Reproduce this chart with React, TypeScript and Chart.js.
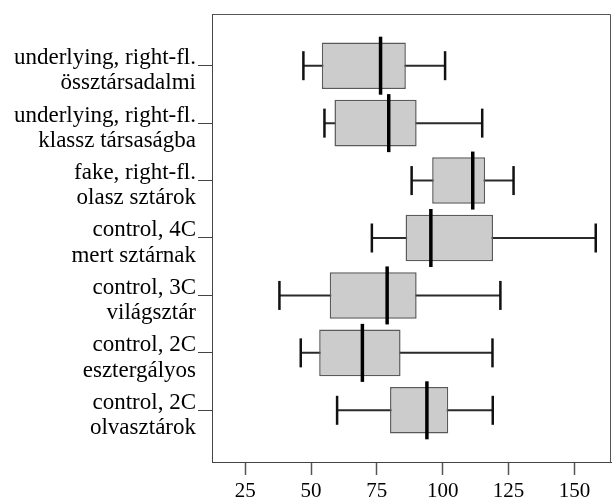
import React, { useEffect, useRef } from "react";
import { Chart, registerables } from "chart.js";

Chart.register(...registerables);

const labelLine1 = [
  "underlying, right-fl.",
  "underlying, right-fl.",
  "fake, right-fl.",
  "control, 4C",
  "control, 3C",
  "control, 2C",
  "control, 2C",
];
const labelLine2 = [
  "össztársadalmi",
  "klassz társaságba",
  "olasz sztárok",
  "mert sztárnak",
  "világsztár",
  "esztergályos",
  "olvasztárok",
];
const whiskerMin = [47.1, 55.1, 88.2, 73.1, 38.0, 46.1, 59.9];
const q1 = [54.1, 58.9, 96.0, 85.9, 57.1, 53.1, 80.0];
const median = [76.4, 79.5, 111.4, 95.5, 78.9, 69.5, 94.0];
const q3 = [86.0, 90.1, 116.1, 119.1, 90.1, 84.0, 102.1];
const whiskerMax = [100.9, 115.0, 126.9, 158.1, 121.9, 118.9, 119.0];
const xTicks = [25, 50, 75, 100, 125, 150];

const FONT = "'Liberation Serif', 'Times New Roman', serif";

export default function App() {
  const ref = useRef<HTMLCanvasElement | null>(null);

  useEffect(() => {
    const canvas = ref.current;
    if (!canvas) return;

    const positions = labelLine1.map((_, i) => i + 1);

    const whiskerSets = positions.map((p, i) => ({
      type: "scatter" as const,
      data: [
        { x: whiskerMin[i], y: p },
        { x: whiskerMax[i], y: p },
      ],
      showLine: true,
      borderColor: "#2a2a2a",
      borderWidth: 2,
      pointRadius: 0,
      pointHoverRadius: 0,
      order: 5,
    }));

    const frame = {
      id: "frame",
      afterDraw(chart: any) {
        const { ctx, chartArea } = chart;
        ctx.save();
        ctx.strokeStyle = "#555";
        ctx.lineWidth = 1;
        ctx.beginPath();
        ctx.moveTo(Math.round(chartArea.left) + 0.5, Math.round(chartArea.top) + 0.5);
        ctx.lineTo(Math.round(chartArea.right) - 0.5, Math.round(chartArea.top) + 0.5);
        ctx.lineTo(Math.round(chartArea.right) - 0.5, Math.round(chartArea.bottom) + 0.5);
        ctx.stroke();
        ctx.restore();
      },
    };

    const zeroPad = (scale: any) => {
      scale.paddingTop = 0;
      scale.paddingBottom = 0;
      scale.paddingLeft = 0;
      scale.paddingRight = 0;
    };

    const chart = new Chart(canvas, {
      type: "bar",
      data: {
        datasets: [
          ...whiskerSets,
          {
            type: "bar",
            data: positions.map((p, i) => ({ y: p, x: [q1[i], q3[i]] })),
            backgroundColor: "#cccccc",
            borderColor: "#5a5a5a",
            borderWidth: 1.5,
            borderSkipped: false,
            categoryPercentage: 1,
            barPercentage: 0.81,
            order: 4,
          } as any,
          {
            type: "scatter",
            data: positions.flatMap((p, i) => [
              { x: whiskerMin[i], y: p },
              { x: whiskerMax[i], y: p },
            ]),
            pointStyle: "line",
            rotation: 90,
            pointRadius: 14.5,
            pointHoverRadius: 14.5,
            pointBorderWidth: 2.5,
            borderColor: "#111",
            backgroundColor: "#111",
            order: 2,
          } as any,
          {
            type: "scatter",
            data: positions.map((p, i) => ({ x: median[i], y: p })),
            pointStyle: "line",
            rotation: 90,
            pointRadius: 29,
            pointHoverRadius: 29,
            pointBorderWidth: 3.5,
            borderColor: "#000",
            backgroundColor: "#000",
            order: 1,
          } as any,
        ] as any,
      },
      options: {
        indexAxis: "y",
        responsive: false,
        animation: false,
        events: [],
        layout: { autoPadding: false, padding: { top: 14, right: 1, left: 0, bottom: 0 } },
        plugins: { legend: { display: false }, tooltip: { enabled: false } },
        scales: {
          x: {
            type: "linear",
            min: 12.4,
            max: 163.9,
            offset: false,
            beginAtZero: false,
            afterBuildTicks: (scale: any) => {
              scale.ticks = xTicks.map((v) => ({ value: v }));
            },
            afterFit: (scale: any) => {
              scale.height = 40;
              zeroPad(scale);
            },
            grid: {
              drawOnChartArea: false,
              drawTicks: true,
              tickLength: 13,
              tickColor: "#555",
              tickWidth: 1.5,
              offset: false,
            },
            border: { display: true, color: "#444", width: 1 },
            ticks: {
              color: "#000",
              padding: 4,
              maxRotation: 0,
              autoSkip: false,
              font: { family: FONT, size: 21 },
            },
          },
          y: {
            type: "linear",
            reverse: true,
            min: 0.1,
            max: 7.9,
            offset: false,
            afterBuildTicks: (scale: any) => {
              scale.ticks = positions.map((v) => ({ value: v }));
            },
            afterFit: (scale: any) => {
              scale.width = 212;
              zeroPad(scale);
            },
            grid: {
              drawOnChartArea: false,
              drawTicks: true,
              tickLength: 14,
              tickColor: "#444",
              tickWidth: 1,
              offset: false,
            },
            border: { display: true, color: "#444", width: 1 },
            ticks: {
              color: "#000",
              padding: 2,
              labelOffset: 5,
              autoSkip: false,
              font: { family: FONT, size: 23, lineHeight: 1.1 },
              callback: (v: any) => {
                const i = Math.round(Number(v)) - 1;
                return [labelLine1[i], labelLine2[i]];
              },
            },
          },
        },
      } as any,
      plugins: [frame],
    });

    return () => chart.destroy();
  }, []);

  return (
    <div style={{ position: "fixed", left: 0, top: 0, width: 612, height: 502, background: "#fff" }}>
      <canvas ref={ref} width={612} height={502} style={{ display: "block", width: 612, height: 502 }} />
    </div>
  );
}
